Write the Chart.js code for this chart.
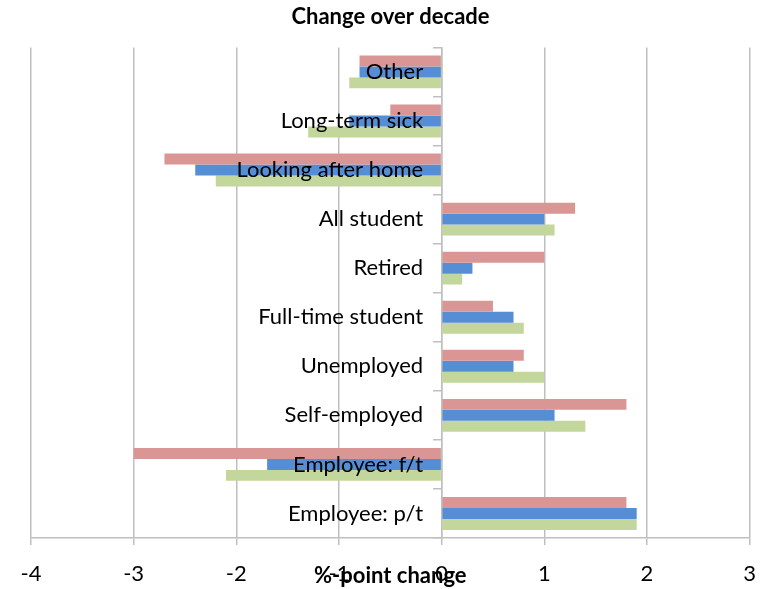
<!DOCTYPE html>
<html>
<head>
<meta charset="utf-8">
<script src="https://cdn.jsdelivr.net/npm/chart.js@4/dist/chart.umd.min.js"></script>
<style>
  html, body { margin: 0; padding: 0; background: #fff; }
  #wrap { width: 772px; height: 589px; }
</style>
</head>
<body>
<div id="wrap"><canvas id="chart" width="772" height="589"></canvas></div>
<script>
// Categories, listed from top to bottom as they appear.
const categories = [ "Other", "Long-term sick", "Looking after home", "All student", "Retired",
    "Full-time student", "Unemployed", "Self-employed", "Employee: f/t", "Employee: p/t" ];

// Three series (top bar, middle bar, bottom bar in each group).
const pinkValues  = [ -0.8, -0.5, -2.7, 1.3, 1.0, 0.5, 0.8, 1.8, -3.0, 1.8 ];
const blueValues  = [ -0.8, -0.9, -2.4, 1.0, 0.3, 0.7, 0.7, 1.1, -1.7, 1.9 ];
const greenValues = [ -0.9, -1.3, -2.2, 1.1, 0.2, 0.8, 1.0, 1.4, -2.1, 1.9 ];

// Tick range of the value axis.
const xMin = -4;
const xMax = 3;

const gridColor = "#BFBFBF";
const fontFamily = "Lato, 'Open Sans', sans-serif";

/**
 * Builds one bar series.
 */
function makeSeries( label, values, color ) {
    return {
        label: label,
        data: values,
        backgroundColor: color,
        borderWidth: 0,
        barPercentage: 1.0,
        categoryPercentage: 0.67
    };
}

const ctx = document.getElementById( "chart" );
new Chart( ctx, {
    type: "bar",
    data: {
        labels: categories,
        datasets: [
            makeSeries( "Series 3", pinkValues, "#D99694" ),
            makeSeries( "Series 2", blueValues, "#558ED5" ),
            makeSeries( "Series 1", greenValues, "#C3D69B" )
        ]
    },
    options: {
        indexAxis: "y",
        responsive: false,
        animation: false,
        layout: {
            padding: { left: 31, right: 22, top: 0, bottom: 0 }
        },
        plugins: {
            legend: { display: false },
            tooltip: { enabled: false },
            title: {
                display: true,
                text: "Change over decade",
                color: "#000",
                font: { family: fontFamily, size: 22, weight: "bold" },
                padding: { top: 4, bottom: 17 }
            }
        },
        scales: {
            x: {
                type: "linear",
                min: xMin,
                max: xMax,
                ticks: {
                    stepSize: 1,
                    color: "#000",
                    padding: 16,
                    font: { family: fontFamily, size: 22 }
                },
                grid: {
                    color: gridColor,
                    lineWidth: 1.5,
                    tickLength: 7
                },
                border: { display: true, color: gridColor, width: 1.5 },
                title: {
                    display: true,
                    text: "%-point change",
                    color: "#000",
                    font: { family: fontFamily, size: 22, weight: "bold" },
                    padding: { top: 0, bottom: 0 }
                },
                afterFit: function( scale ) {
                    scale.height = 51;
                }
            },
            // Category axis line with its tick marks, sitting on zero.
            y: {
                position: { x: 0 },
                ticks: { display: false },
                grid: {
                    drawOnChartArea: false,
                    color: gridColor,
                    lineWidth: 1.5,
                    tickLength: 8,
                    offset: true
                },
                border: { display: true, color: gridColor, width: 1.5 }
            },
            // Category names, a little left of zero and drawn over the bars.
            yLabels: {
                type: "category",
                labels: categories,
                offset: true,
                position: { x: -0.18 },
                ticks: {
                    z: 1,
                    color: "#000",
                    autoSkip: false,
                    padding: 0,
                    font: { family: fontFamily, size: 22 }
                },
                grid: { display: false, drawTicks: false },
                border: { display: false }
            }
        }
    }
});
</script>
</body>
</html>
